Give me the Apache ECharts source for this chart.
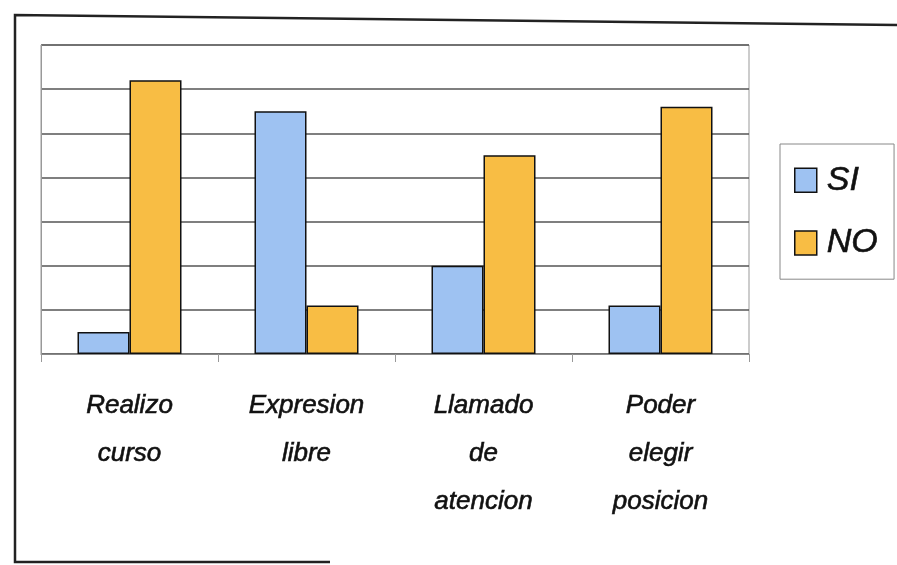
<!DOCTYPE html>
<html>
<head>
<meta charset="utf-8">
<script src="https://cdn.jsdelivr.net/npm/echarts@6/dist/echarts.min.js"></script>
<style>
html,body{margin:0;padding:0;background:#fff;}
#chart{width:897px;height:565px;}
</style>
</head>
<body>
<div id="chart"></div>
<script>
// categories and series values
var categories = ['Realizo\ncurso', 'Expresion\nlibre', 'Llamado\nde\natencion', 'Poder\nelegir\nposicion'];
var siValues = [0.5, 5.5, 2, 1.1];
var noValues = [6.2, 1.1, 4.5, 5.6];
var seriesNames = ['SI', 'NO'];
var colors = ['#9ec2f2', '#f8bd44'];

var chart = echarts.init(document.getElementById('chart'));

chart.setOption({
    backgroundColor: '#fff',
    animation: false,
    color: colors,
    graphic: [{
        type: 'polyline',
        shape: {points: [[897, 25], [15, 15], [15, 562], [330, 562]]},
        style: {stroke: '#222', lineWidth: 2.5, fill: null}
    }],
    legend: {
        orient: 'vertical',
        left: 780,
        top: 144,
        padding: [19, 16, 19, 14],
        itemGap: 28,
        itemWidth: 22,
        itemHeight: 24,
        icon: 'rect',
        borderColor: '#888',
        borderWidth: 1,
        data: seriesNames,
        itemStyle: {borderColor: '#111', borderWidth: 1.5},
        textStyle: {
            fontFamily: '"Liberation Sans", Arial, sans-serif',
            fontStyle: 'italic',
            fontSize: 34,
            color: '#111',
            padding: [0, 0, 0, 5],
            textBorderColor: '#111',
            textBorderWidth: 0.6
        }
    },
    grid: {
        left: 41,
        top: 45,
        width: 708,
        height: 309,
        show: true,
        borderColor: '#999',
        borderWidth: 1
    },
    xAxis: {
        type: 'category',
        data: categories,
        axisLine: {lineStyle: {color: '#888', width: 1}},
        axisTick: {show: true, length: 8, lineStyle: {color: '#999'}},
        axisLabel: {
            margin: 28,
            fontFamily: '"Liberation Sans", Arial, sans-serif',
            fontStyle: 'italic',
            fontSize: 26,
            lineHeight: 48,
            color: '#111',
            textBorderColor: '#111',
            textBorderWidth: 0.6
        }
    },
    yAxis: {
        type: 'value',
        min: 0,
        max: 7,
        interval: 1,
        axisLabel: {show: false},
        axisTick: {show: false},
        axisLine: {show: true, lineStyle: {color: '#999'}},
        splitLine: {lineStyle: {color: '#555', width: 1.5}}
    },
    series: [{
        name: seriesNames[0],
        type: 'bar',
        data: siValues,
        barWidth: 52,
        barGap: 0,
        itemStyle: {borderColor: '#111', borderWidth: 1.5}
    }, {
        name: seriesNames[1],
        type: 'bar',
        data: noValues,
        barWidth: 52,
        barGap: 0,
        itemStyle: {borderColor: '#111', borderWidth: 1.5}
    }]
});
</script>
</body>
</html>
